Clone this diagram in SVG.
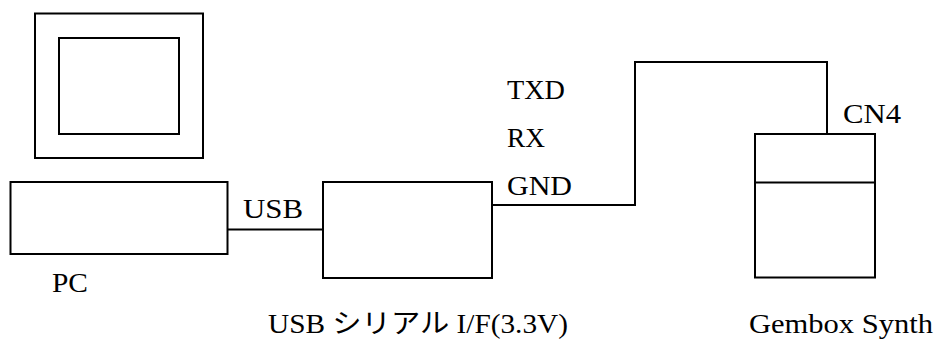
<svg xmlns="http://www.w3.org/2000/svg" width="939" height="343" viewBox="0 0 939 343">
<style>
.box{fill:none;stroke:#000;stroke-width:2}
.wire{fill:none;stroke:#000;stroke-width:2}
</style>
<rect width="939" height="343" fill="#fff"/>
<g id="monitor">
<rect class="box" x="35" y="13.5" width="168" height="144.5"/>
<rect class="box" x="59" y="38" width="120" height="96"/>
</g>
<g font-family="Liberation Serif, Times New Roman, DejaVu Serif, Noto Sans CJK JP, serif" font-size="27" fill="#000">
<g id="pc">
<rect class="box" x="10.5" y="182" width="217" height="72"/>
<text x="52" y="292" textLength="36" lengthAdjust="spacingAndGlyphs">PC</text>
</g>
<g id="usbserial">
<rect class="box" x="323" y="182" width="169" height="96"/>
<text x="268" y="333" textLength="300" lengthAdjust="spacingAndGlyphs">USB シリアル I/F(3.3V)</text>
</g>
<g id="gembox">
<rect class="box" x="755" y="134" width="120" height="143.5"/>
<line class="box" x1="755" y1="182.5" x2="875" y2="182.5"/>
<text x="843" y="123" textLength="58" lengthAdjust="spacingAndGlyphs">CN4</text>
<text x="749" y="333" textLength="184" lengthAdjust="spacingAndGlyphs">Gembox Synth</text>
</g>
<g id="connectors">
<line class="wire" x1="227.5" y1="229.5" x2="323" y2="229.5"/>
<polyline class="wire" points="492,205 635,205 635,62 827,62 827,134"/>
<text x="243" y="218" textLength="60" lengthAdjust="spacingAndGlyphs">USB</text>
<text x="507" y="99" textLength="58" lengthAdjust="spacingAndGlyphs">TXD</text>
<text x="507" y="147" textLength="38" lengthAdjust="spacingAndGlyphs">RX</text>
<text x="507" y="195" textLength="65" lengthAdjust="spacingAndGlyphs">GND</text>
</g>
</g>
</svg>
